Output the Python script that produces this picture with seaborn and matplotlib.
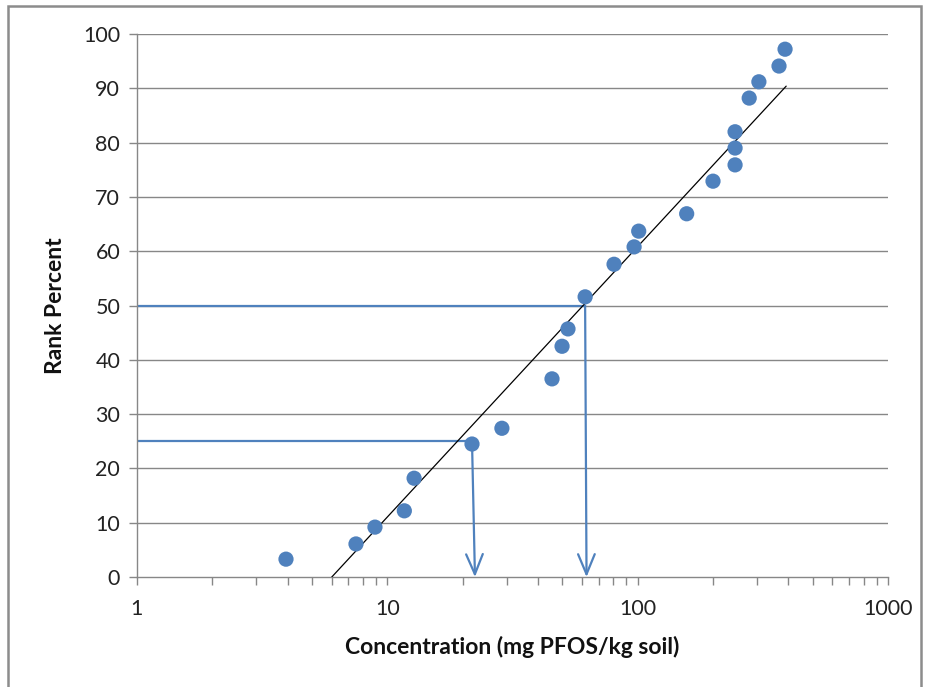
import matplotlib
matplotlib.use("Agg")
import matplotlib.pyplot as plt
import matplotlib.patches as mpatches
from matplotlib.ticker import LogLocator, FixedLocator, NullFormatter
import seaborn as sns
import pandas as pd
import numpy as np

# Data
concentration = [3.94, 7.5, 8.93, 11.7, 12.8, 21.8, 28.7, 45.5, 49.9, 52.7, 61.7,
                 80.5, 96.8, 101, 157, 200, 245, 245, 245, 279, 305, 367, 388]
rank_percent = [3.3, 6.1, 9.2, 12.2, 18.2, 24.5, 27.4, 36.5, 42.5, 45.7, 51.6,
                57.6, 60.8, 63.7, 66.9, 72.9, 75.9, 79.0, 82.0, 88.2, 91.2, 94.1, 97.2]

trend_x = [6.0, 392.0]
trend_y = [0.0, 90.4]

# Reference lines (percentile read-offs)
ref_levels = [25, 50]
ref_conc_top = [21.8, 61.7]
ref_conc_bottom = [22.4, 62.5]

xtick_vals = [1, 10, 100, 1000]
xtick_labels = ["1", "10", "100", "1000"]
ytick_vals = list(range(0, 101, 10))

sns.set_theme(style="white")
plt.rcParams['font.family'] = ['Lato', 'DejaVu Sans']

fig = plt.figure(figsize=(9.25, 6.87), dpi=100)
ax = fig.add_axes([0.148, 0.160, 0.812, 0.7905])

grid_col = "#878787"
blue = "#4F81BD"

for y in ytick_vals[1:]:
    ax.axhline(y, color=grid_col, lw=1.0, zorder=0)

df_pts = pd.DataFrame({"Concentration": concentration, "Rank": rank_percent})
df_tr = pd.DataFrame({"x": trend_x, "y": trend_y})

# Reference lines
for lvl, xt, xb in zip(ref_levels, ref_conc_top, ref_conc_bottom):
    ax.plot([1, xt], [lvl, lvl], color=blue, lw=1.6, zorder=2)
    ax.annotate("", xy=(xb, 0), xytext=(xt, lvl),
                arrowprops=dict(arrowstyle="->,head_length=1.2,head_width=0.5",
                                color=blue, lw=1.6, shrinkA=0, shrinkB=0),
                zorder=2)

sns.lineplot(data=df_tr, x="x", y="y", ax=ax, color="black", lw=0.9, zorder=3)
sns.scatterplot(data=df_pts, x="Concentration", y="Rank", ax=ax, color=blue,
                s=120, edgecolor="none", zorder=4)

ax.set_xscale("log")
ax.set_xlim(1, 1000)
ax.set_ylim(0, 100)
ax.xaxis.set_major_locator(FixedLocator(xtick_vals))
ax.set_xticklabels(xtick_labels)
ax.xaxis.set_minor_locator(LogLocator(base=10, subs=np.arange(2, 10)))
ax.xaxis.set_minor_formatter(NullFormatter())
ax.set_yticks(ytick_vals)

for s in ["top", "right"]:
    ax.spines[s].set_visible(False)
for s in ["left", "bottom"]:
    ax.spines[s].set_color(grid_col)
    ax.spines[s].set_linewidth(1.0)

ax.tick_params(axis="x", which="both", direction="out", length=6, width=1,
               color=grid_col, bottom=True, labelsize=15.5, pad=10, labelcolor="#222222")
ax.tick_params(axis="y", which="major", direction="out", length=6, width=1,
               color=grid_col, left=True, labelsize=15.5, pad=6, labelcolor="#222222")

ax.set_xlabel("Concentration (mg PFOS/kg soil)", fontsize=16.5, fontweight="bold",
              labelpad=12, color="#111111")
ax.set_ylabel("Rank Percent", fontsize=16.5, fontweight="bold", labelpad=12,
              color="#111111")

# Outer chart border
border = mpatches.Rectangle((8 / 925, -0.01), (921 - 8) / 925, 1 - 6 / 687 + 0.01,
                            transform=fig.transFigure, fill=False,
                            edgecolor="#8c8c8c", lw=1.8, zorder=10)
fig.patches.append(border)

fig.savefig("out.png", dpi=100)
